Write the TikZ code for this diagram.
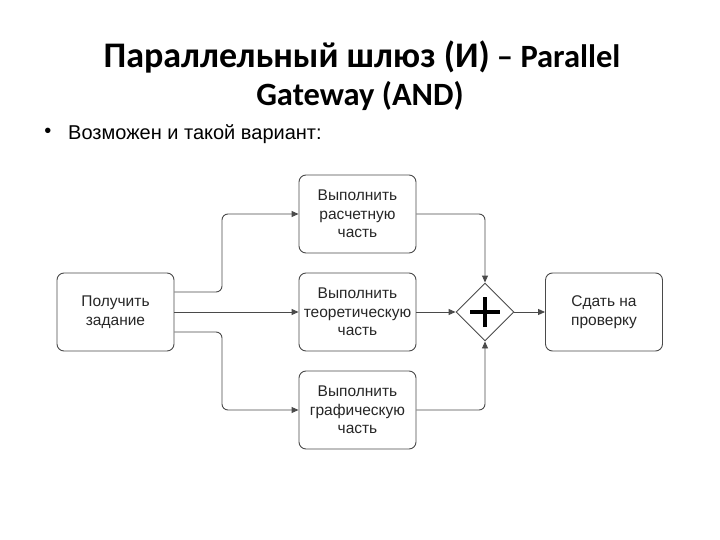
\documentclass[tikz,border=0pt]{standalone}
\usepackage{fontspec}
\setmainfont{Liberation Sans}
\newfontfamily\titlefont{Carlito}
\usetikzlibrary{arrows.meta,shapes.geometric}
\definecolor{edge}{HTML}{4A4A4A}
\tikzset{
  task/.style={draw=edge, line width=0.9pt, rounded corners=7pt, minimum width=117pt, minimum height=78pt, align=center, font=\fontsize{15.5}{18.5}\selectfont, text=black!85},
  flow/.style={draw=edge, line width=0.9pt, rounded corners=6pt, -{Triangle[length=7pt,width=6pt]}},
  gw/.style={draw=edge, line width=0.9pt, diamond, minimum width=58pt, minimum height=58pt, inner sep=0pt}
}
\begin{document}
\begin{tikzpicture}[x=1pt,y=-1pt]
\useasboundingbox (0,0) rectangle (720,540);
\node[font=\titlefont\bfseries\fontsize{32.5}{36}\selectfont, anchor=base, inner sep=0pt] (t1) at (362,68) {{\fontsize{36}{38}\selectfont Параллельный шлюз (И)} – Parallel};
\node[font=\titlefont\bfseries\fontsize{32.5}{36}\selectfont, anchor=base, inner sep=0pt] (t2) at (360,106) {Gateway (AND)};
\node[font=\fontsize{20}{22}\selectfont, inner sep=0pt] (bul) at (48,133) {•};
\node[font=\fontsize{20}{22}\selectfont, anchor=base west, inner sep=0pt] (sub) at (68,140) {Возможен и такой вариант:};

\node[task] (get) at (115.5,312) {Получить\\задание};
\node[task] (calc) at (357.5,214) {Выполнить\\расчетную\\часть};
\node[task] (theo) at (357.5,312) {Выполнить\\теоретическую\\часть};
\node[task] (graph) at (357.5,410) {Выполнить\\графическую\\часть};
\node[gw] (and) at (485,312) {};
\node[task] (sub2) at (604,312) {Сдать на\\проверку};
\draw[black, line width=3.8pt] ([yshift=-15pt]and.center) -- ([yshift=15pt]and.center) ([xshift=-15pt]and.center) -- ([xshift=15pt]and.center);

\draw[flow] ([yshift=20pt]get.east) -| (222,214) -- (calc.west);
\draw[flow] (get.east) -- (theo.west);
\draw[flow] ([yshift=-20pt]get.east) -| (222,410) -- (graph.west);
\draw[flow] (calc.east) -| (and.north);
\draw[flow] (theo.east) -- (and.west);
\draw[flow] (graph.east) -| (and.south);
\draw[flow] (and.east) -- (sub2.west);
\end{tikzpicture}
\end{document}
